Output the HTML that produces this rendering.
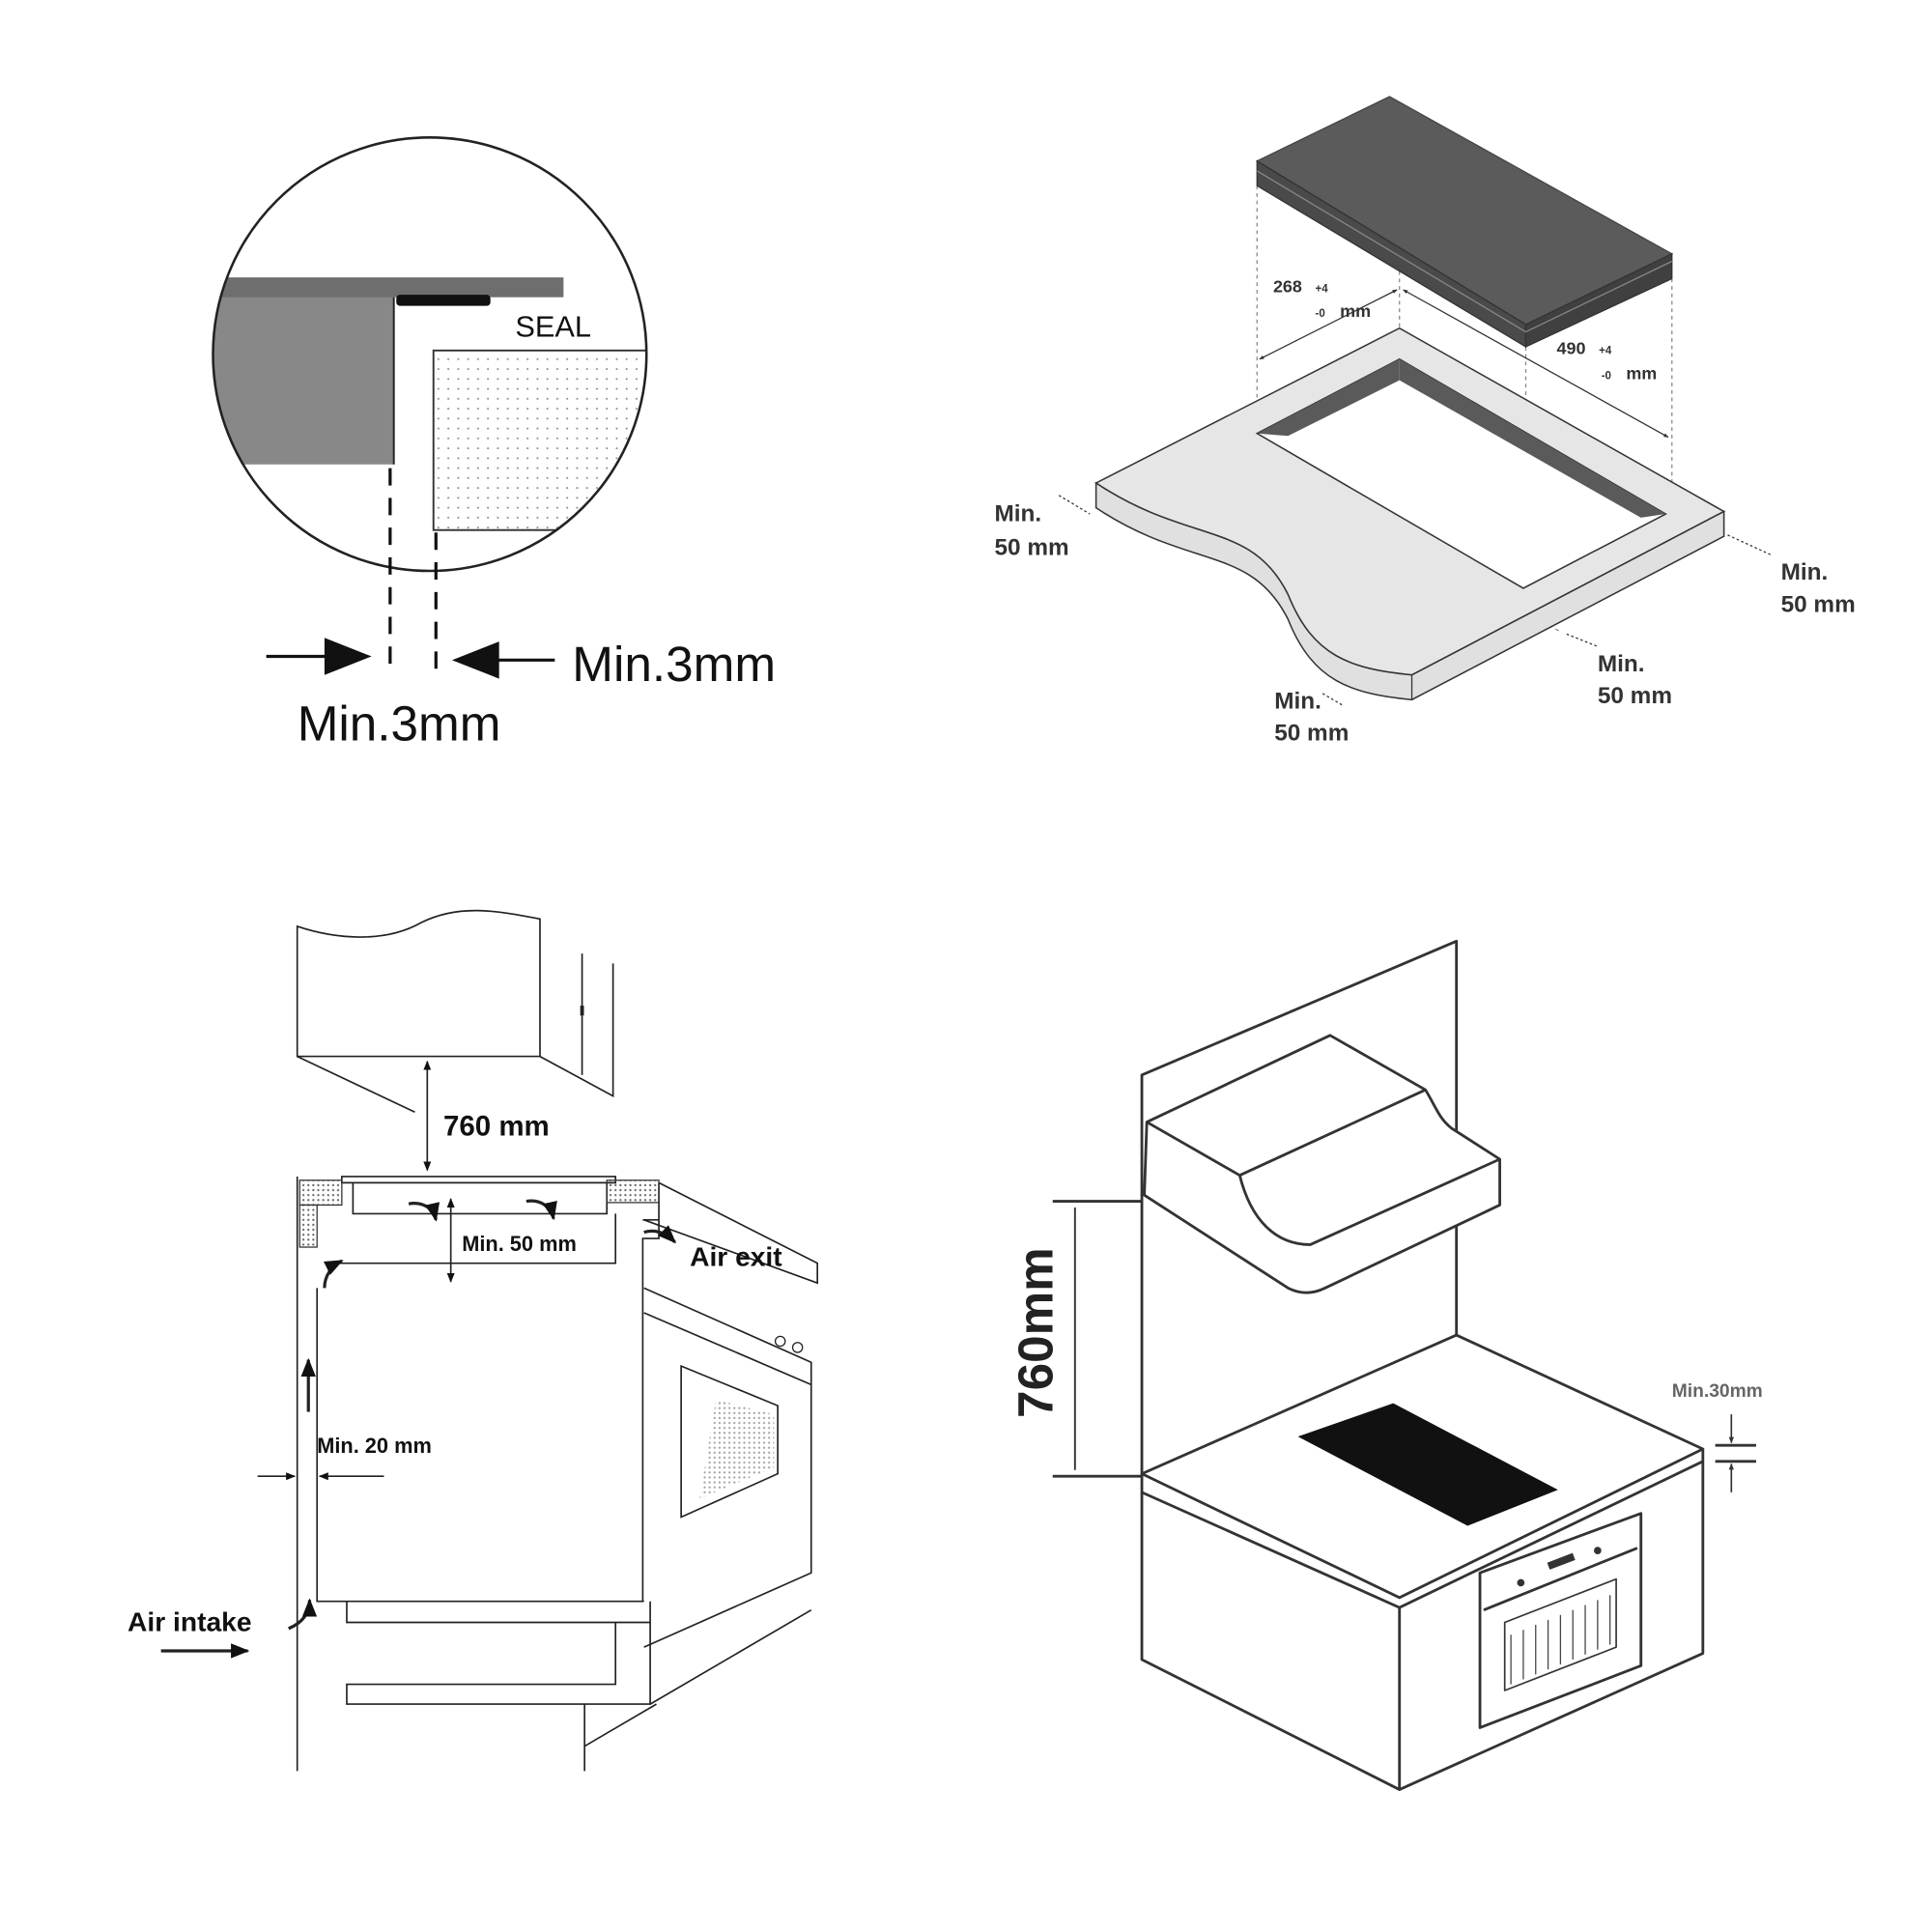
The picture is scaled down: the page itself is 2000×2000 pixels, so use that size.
<!DOCTYPE html>
<html><head><meta charset="utf-8"><style>
html,body{margin:0;padding:0;background:#fff}
svg{display:block}
text{font-family:"Liberation Sans",sans-serif}
</style></head><body>
<svg width="2000" height="2000" viewBox="0 0 1560 1560" xmlns="http://www.w3.org/2000/svg">
<defs>
<clipPath id="c"><circle cx="347" cy="286" r="175"/></clipPath>
<pattern id="dots" width="8" height="8" patternUnits="userSpaceOnUse"><circle cx="2" cy="2" r="0.8" fill="#888"/></pattern>
<pattern id="dots2" width="4" height="4" patternUnits="userSpaceOnUse"><circle cx="1" cy="1" r="0.9" fill="#666"/></pattern>
<marker id="ah" viewBox="0 0 10 10" refX="9" refY="5" markerWidth="6" markerHeight="6" orient="auto-start-reverse"><path d="M0,1 L10,5 L0,9z" fill="#111"/></marker>
<marker id="as" viewBox="0 0 10 10" refX="9" refY="5" markerWidth="4" markerHeight="4" orient="auto-start-reverse"><path d="M0,1 L10,5 L0,9z" fill="#333"/></marker>
</defs>

<!-- TOP LEFT -->
<g clip-path="url(#c)">
<rect x="160" y="238" width="158" height="137" fill="#888"/>
<rect x="160" y="224" width="295" height="16" fill="#6e6e6e"/>
<rect x="350" y="283" width="180" height="145" fill="url(#dots)" stroke="#333" stroke-width="1.5"/>
</g>
<line x1="318" y1="240" x2="318" y2="375" stroke="#222" stroke-width="1.5"/>
<rect x="320" y="238" width="76" height="9" rx="3" fill="#111"/>
<circle cx="347" cy="286" r="175" fill="none" stroke="#222" stroke-width="2"/>
<text x="416" y="272" font-size="24" fill="#111">SEAL</text>
<line x1="315" y1="378" x2="315" y2="545" stroke="#111" stroke-width="2.5" stroke-dasharray="14,10"/>
<line x1="352" y1="430" x2="352" y2="545" stroke="#111" stroke-width="2.5" stroke-dasharray="14,10"/>
<line x1="215" y1="530" x2="270" y2="530" stroke="#111" stroke-width="2.5"/>
<path d="M262,515 L300,530 L262,545z" fill="#111"/>
<line x1="395" y1="533" x2="448" y2="533" stroke="#111" stroke-width="2.5"/>
<path d="M403,518 L365,533 L403,548z" fill="#111"/>
<text x="462" y="550" font-size="40" fill="#111">Min.3mm</text>
<text x="240" y="598" font-size="40" fill="#111">Min.3mm</text>

<!-- TOP RIGHT -->
<g stroke="#888" stroke-width="1" stroke-dasharray="3,3" fill="none">
<line x1="1015" y1="150" x2="1015" y2="350"/>
<line x1="1130" y1="165" x2="1130" y2="290"/>
<line x1="1350" y1="225" x2="1350" y2="413"/>
<line x1="1232" y1="280" x2="1232" y2="475"/>
<line x1="1155" y1="455" x2="1260" y2="510"/>
</g>
<path d="M885,390 L1130,265 L1392,413 L1140,545 C1090,540 1060,530 1040,480 C1010,420 960,440 885,390z" fill="#e6e6e6" stroke="#333" stroke-width="1.2"/>
<path d="M885,390 L885,410 C960,460 1010,440 1040,500 C1060,550 1090,560 1140,565 L1392,433 L1392,413 L1140,545 C1090,540 1060,530 1040,480 C1010,420 960,440 885,390z" fill="#e0e0e0" stroke="#333" stroke-width="1.2"/>
<line x1="1140" y1="545" x2="1140" y2="565" stroke="#333"/>
<path d="M1015,350 L1130,290 L1345,415 L1230,475z" fill="#fff" stroke="#333" stroke-width="1.2"/>
<path d="M1015,350 L1130,290 L1130,307 L1040,352z" fill="#5a5a5a"/>
<path d="M1130,290 L1345,415 L1325,418 L1130,307z" fill="#5a5a5a"/>
<path d="M1015,130 L1122,78 L1350,205 L1232,262z" fill="#5b5b5b" stroke="#444"/>
<path d="M1015,130 L1015,150 L1232,280 L1232,262z" fill="#4a4a4a" stroke="#333"/>
<path d="M1232,262 L1350,205 L1350,225 L1232,280z" fill="#404040" stroke="#333"/>
<line x1="1015" y1="138" x2="1232" y2="268" stroke="#888"/>
<line x1="1232" y1="268" x2="1350" y2="211" stroke="#888"/>
<line x1="1017" y1="290" x2="1128" y2="234" stroke="#333" marker-start="url(#as)" marker-end="url(#as)"/>
<line x1="1133" y1="234" x2="1347" y2="353" stroke="#333" marker-start="url(#as)" marker-end="url(#as)"/>
<g font-weight="bold" fill="#333">
<text x="1028" y="236" font-size="14">268</text><text x="1062" y="236" font-size="9">+4</text>
<text x="1062" y="256" font-size="9">-0</text><text x="1082" y="256" font-size="14">mm</text>
<text x="1257" y="286" font-size="14">490</text><text x="1291" y="286" font-size="9">+4</text>
<text x="1293" y="306" font-size="9">-0</text><text x="1313" y="306" font-size="14">mm</text>
</g>
<g font-weight="bold" fill="#333" font-size="19">
<text x="803" y="421">Min.</text><text x="803" y="448">50 mm</text>
<text x="1438" y="468">Min.</text><text x="1438" y="494">50 mm</text>
<text x="1290" y="542">Min.</text><text x="1290" y="568">50 mm</text>
<text x="1029" y="572">Min.</text><text x="1029" y="598">50 mm</text>
</g>
<g stroke="#333" stroke-width="1" stroke-dasharray="2,2">
<line x1="855" y1="400" x2="880" y2="415"/><line x1="1395" y1="432" x2="1430" y2="448"/>
<line x1="1265" y1="512" x2="1290" y2="522"/><line x1="1068" y1="560" x2="1085" y2="570"/>
</g>

<!-- BOTTOM LEFT -->
<g fill="none" stroke="#222" stroke-width="1.3">
<path d="M240,748 L240,853 L436,853 L436,742 C400,735 370,730 340,745 C310,762 270,758 240,748z"/>
<path d="M240,853 L335,898"/>
<path d="M436,853 L495,885 L495,778 M470,770 L470,868"/>
<line x1="470" y1="812" x2="470" y2="820" stroke-width="3"/>
<line x1="345" y1="857" x2="345" y2="945" marker-start="url(#ah)" marker-end="url(#ah)"/>
<path d="M240,950 L240,1430"/>
<path d="M276,950 L497,950 L497,955 L276,955z"/>
<path d="M285,955 L285,980 L490,980 L490,955"/>
<path d="M262,1020 L497,1020 L497,980"/>
<path d="M256,1040 L256,1293 L520,1293"/>
<path d="M519,985 L532,985 L532,955 L532,1000 L519,1000 L519,1293"/>
<path d="M532,955 L660,1020 L660,1036 L520,985"/>
<path d="M520,1040 L655,1100 L655,1270 L520,1330"/>
<path d="M520,1060 L655,1118"/>
<path d="M550,1103 L628,1135 L628,1190 L550,1225z"/>
<path d="M280,1293 L280,1310 L525,1310 L525,1293"/>
<path d="M497,1310 L497,1360 L280,1360 L280,1376 L497,1376 L525,1376 L525,1310"/>
<path d="M525,1376 L655,1300 M472,1376 L472,1430 M472,1410 L530,1376"/>
<line x1="364" y1="968" x2="364" y2="1035" marker-start="url(#ah)" marker-end="url(#ah)"/>
<line x1="208" y1="1192" x2="238" y2="1192" marker-end="url(#ah)"/>
<line x1="310" y1="1192" x2="258" y2="1192" marker-end="url(#ah)"/>
<line x1="249" y1="1140" x2="249" y2="1098" stroke-width="2.5" marker-end="url(#ah)"/>
<line x1="130" y1="1333" x2="200" y2="1333" stroke-width="2.5" marker-end="url(#ah)"/>
<path d="M262,1040 C262,1030 268,1022 276,1018" stroke-width="2.5" marker-end="url(#ah)"/>
<path d="M233,1315 C245,1310 250,1302 250,1292" stroke-width="2.5" marker-end="url(#ah)"/>
<path d="M330,972 C342,970 350,976 352,985" stroke-width="2.5" marker-end="url(#ah)"/>
<path d="M425,970 C437,968 445,975 447,984" stroke-width="2.5" marker-end="url(#ah)"/>
<path d="M520,995 C530,992 538,996 545,1003" stroke-width="2.5" marker-end="url(#ah)"/>
</g>
<rect x="242" y="953" width="34" height="20" fill="url(#dots2)" stroke="#333"/>
<rect x="242" y="973" width="14" height="34" fill="url(#dots2)" stroke="#333"/>
<rect x="490" y="953" width="42" height="18" fill="url(#dots2)" stroke="#333"/>
<path d="M578,1130 L625,1142 L625,1185 L565,1210z" fill="url(#dots2)" opacity="0.6"/>
<circle cx="630" cy="1083" r="4" fill="none" stroke="#222"/><circle cx="644" cy="1088" r="4" fill="none" stroke="#222"/>
<g font-weight="bold" fill="#111">
<text x="358" y="917" font-size="23">760 mm</text>
<text x="373" y="1010" font-size="17">Min. 50 mm</text>
<text x="557" y="1022" font-size="22">Air exit</text>
<text x="256" y="1173" font-size="17">Min. 20 mm</text>
<text x="103" y="1317" font-size="22">Air intake</text>
</g>

<!-- BOTTOM RIGHT -->
<g fill="none" stroke="#333" stroke-width="2.2" stroke-linejoin="round">
<path d="M922,1190 L922,868 L1176,760 L1176,1078"/>
<path d="M922,1190 L1176,1078 L1375,1170 L1130,1290 L922,1190z"/>
<path d="M922,1190 L922,1205 L1130,1298 L1375,1180 L1375,1170"/>
<path d="M922,1205 L922,1340 L1130,1445 L1375,1335 L1375,1180"/>
<path d="M1130,1298 L1130,1445"/>
<path d="M1195,1270 L1325,1222 L1325,1345 L1195,1395z"/>
<path d="M1198,1300 L1322,1250"/>
<path d="M1215,1310 L1305,1275 L1305,1330 L1215,1365z" stroke-width="1.3"/>
<path d="M926,906 L1074,836 L1151,880 C1160,895 1162,903 1172,911 L1211,936 L1211,973 L1070,1040 C1060,1045 1050,1045 1040,1040 L924,965 Z" fill="#fff"/>
<path d="M926,906 L1001,949 L1151,880"/>
<path d="M1001,949 C1010,985 1030,1005 1058,1005 L1211,936"/>
<path d="M850,970 L922,970 M850,1192 L922,1192"/>
<line x1="868" y1="975" x2="868" y2="1187" stroke-width="1.5"/>
<path d="M1385,1167 L1418,1167 M1385,1180 L1418,1180"/>
<line x1="1398" y1="1142" x2="1398" y2="1165" stroke-width="1.3" marker-end="url(#as)"/>
<line x1="1398" y1="1205" x2="1398" y2="1182" stroke-width="1.3" marker-end="url(#as)"/>
</g>
<path d="M1048,1160 L1125,1133 L1258,1203 L1185,1232z" fill="#111"/>
<g stroke="#444" stroke-width="1">
<line x1="1220" y1="1320" x2="1220" y2="1360"/><line x1="1230" y1="1316" x2="1230" y2="1356"/><line x1="1240" y1="1312" x2="1240" y2="1352"/><line x1="1250" y1="1308" x2="1250" y2="1348"/><line x1="1260" y1="1304" x2="1260" y2="1344"/><line x1="1270" y1="1300" x2="1270" y2="1340"/><line x1="1280" y1="1296" x2="1280" y2="1336"/><line x1="1290" y1="1292" x2="1290" y2="1332"/><line x1="1300" y1="1288" x2="1300" y2="1328"/>
</g>
<circle cx="1228" cy="1278" r="3" fill="#333"/><circle cx="1290" cy="1252" r="3" fill="#333"/>
<rect x="1250" y="1258" width="22" height="6" fill="#333" transform="rotate(-21 1260 1262)"/>
<text transform="translate(850,1145) rotate(-90)" font-size="40" font-weight="bold" fill="#222">760mm</text>
<text x="1350" y="1128" font-size="15" font-weight="bold" fill="#666">Min.30mm</text>
</svg>
</body></html>
